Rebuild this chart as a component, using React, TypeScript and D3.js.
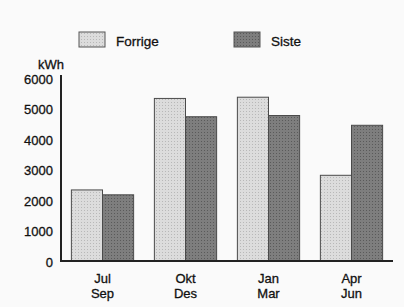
import React, { useEffect, useRef } from 'react';
import * as d3 from 'd3';

// Data
const quarters = [['Jul', 'Sep'], ['Okt', 'Des'], ['Jan', 'Mar'], ['Apr', 'Jun']];
const seriesNames = ['Forrige', 'Siste'];
const forrige = [2330, 5330, 5370, 2810];
const siste = [2170, 4730, 4770, 4450];
const yTicks = [0, 1000, 2000, 3000, 4000, 5000, 6000];

const App: React.FC = () => {
  const svgRef = useRef<SVGSVGElement>(null);

  useEffect(() => {
    if (!svgRef.current) return;
    const svg = d3.select(svgRef.current);
    svg.selectAll('*').remove();

    const width = 404;
    const height = 307;
    const font = 'Liberation Sans, Arial, sans-serif';

    svg.append('rect').attr('width', width).attr('height', height).attr('fill', '#fafafa');

    // Dotted textures like the print
    const defs = svg.append('defs');
    const pat = (id: string, bg: string, dot: string) => {
      const p = defs.append('pattern')
        .attr('id', id)
        .attr('width', 3)
        .attr('height', 3)
        .attr('patternUnits', 'userSpaceOnUse');
      p.append('rect').attr('width', 3).attr('height', 3).attr('fill', bg);
      p.append('rect').attr('width', 1).attr('height', 1).attr('fill', dot);
    };
    pat('light', '#dcdcdc', '#b8b8b8');
    pat('dark', '#7e7e7e', '#5a5a5a');
    const fills = ['url(#light)', 'url(#dark)'];

    const x0 = d3.scaleBand<number>()
      .domain(d3.range(quarters.length))
      .range([61, 393])
      .paddingInner(0.25)
      .paddingOuter(0.125);
    const x1 = d3.scaleBand<number>()
      .domain([0, 1])
      .range([0, x0.bandwidth()]);
    const y = d3.scaleLinear().domain([0, 6000]).range([261, 78]);

    const series = [forrige, siste];

    // Bars
    series.forEach((vals, si) => {
      svg.append('g')
        .selectAll('rect')
        .data(vals)
        .join('rect')
        .attr('x', (_, i) => (x0(i) as number) + (x1(si) as number))
        .attr('y', d => y(d))
        .attr('width', x1.bandwidth())
        .attr('height', d => y(0) - y(d))
        .attr('fill', fills[si])
        .attr('stroke', '#4a4a4a')
        .attr('stroke-width', 1);
    });

    // Axes lines
    svg.append('line')
      .attr('x1', 61).attr('x2', 61)
      .attr('y1', 75).attr('y2', y(0) + 1)
      .attr('stroke', '#222').attr('stroke-width', 2);
    svg.append('line')
      .attr('x1', 60).attr('x2', 393)
      .attr('y1', y(0)).attr('y2', y(0))
      .attr('stroke', '#222').attr('stroke-width', 2);

    const styleText = (sel: d3.Selection<any, any, any, any>, size: number) =>
      sel.attr('font-family', font)
        .attr('font-size', size)
        .attr('fill', '#111')
        .attr('stroke', '#111')
        .attr('stroke-width', 0.3);

    // Y tick labels
    svg.append('g')
      .selectAll('text')
      .data(yTicks)
      .join('text')
      .attr('x', 53)
      .attr('y', d => y(d) + 1)
      .attr('dy', '0.35em')
      .attr('text-anchor', 'end')
      .call(s => styleText(s, 13))
      .text(d => String(d));

    svg.append('text')
      .attr('x', 38)
      .attr('y', 69)
      .call(s => styleText(s, 13))
      .text('kWh');

    // Category labels (two lines)
    const cx = (i: number) => (x0(i) as number) + x0.bandwidth() / 2;
    svg.append('g')
      .selectAll('text')
      .data(quarters)
      .join('text')
      .attr('x', (_, i) => cx(i))
      .attr('y', 283)
      .attr('text-anchor', 'middle')
      .call(s => styleText(s, 13))
      .text(d => d[0]);
    svg.append('g')
      .selectAll('text')
      .data(quarters)
      .join('text')
      .attr('x', (_, i) => cx(i))
      .attr('y', 297.5)
      .attr('text-anchor', 'middle')
      .call(s => styleText(s, 13))
      .text(d => d[1]);

    // Legend
    const legendX = [79, 234];
    seriesNames.forEach((name, i) => {
      svg.append('rect')
        .attr('x', legendX[i])
        .attr('y', 32)
        .attr('width', 26)
        .attr('height', 15)
        .attr('fill', fills[i])
        .attr('stroke', '#555')
        .attr('stroke-width', 1);
      svg.append('text')
        .attr('x', legendX[i] + 37)
        .attr('y', 46)
        .call(s => styleText(s, 13.5))
        .text(name);
    });
  }, []);

  return (
    <div style={{ position: 'absolute', left: 0, top: 0 }}>
      <svg ref={svgRef} width={404} height={307} style={{ display: 'block' }} />
    </div>
  );
};

export default App;
